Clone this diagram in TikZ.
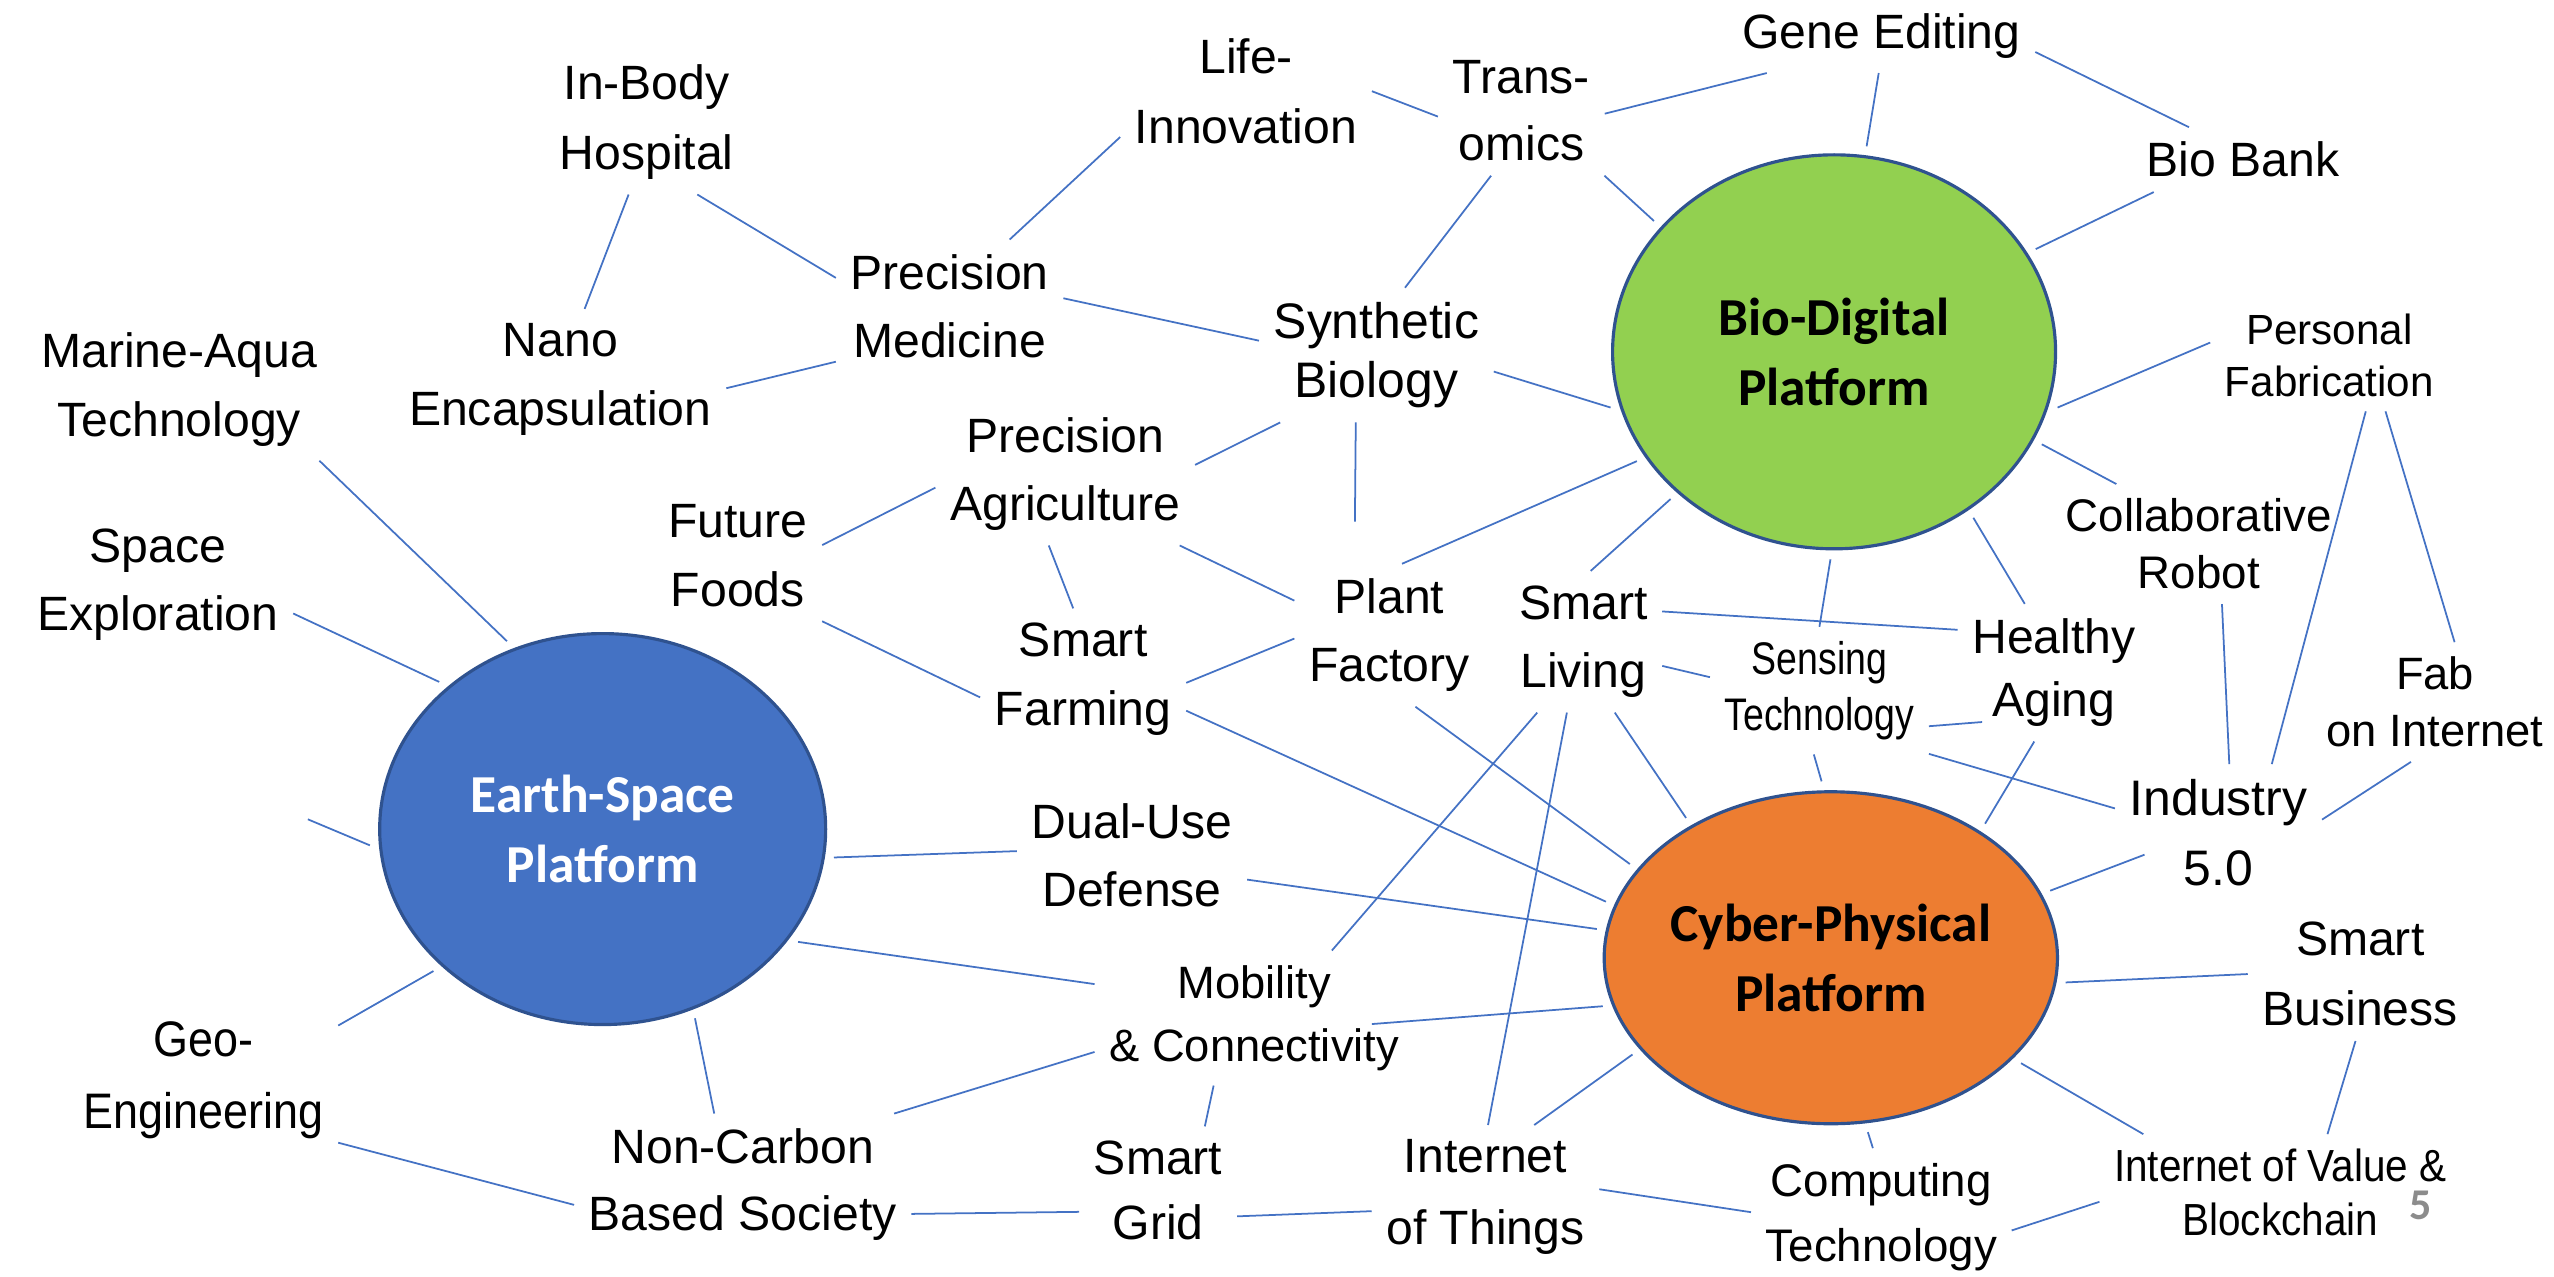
\documentclass[tikz,border=0pt]{standalone}
\usepackage{fontspec}
\setmainfont{Liberation Sans}
\newfontfamily\platfont{Carlito}
\newfontfamily\narrowfont{Liberation Sans}[FakeStretch=0.82]
\newfontfamily\tightfont{Liberation Sans}[FakeStretch=0.9]
\usetikzlibrary{shapes.geometric}

\definecolor{linkblue}{HTML}{4472C4}
\definecolor{rimblue}{HTML}{2F528F}
\definecolor{earthblue}{HTML}{4472C4}
\definecolor{biogreen}{HTML}{92D050}
\definecolor{cyberorange}{HTML}{ED7D31}
\definecolor{pagegray}{HTML}{8C8C8C}

\tikzset{
	topic/.style	= {align=center, inner sep=4pt, font=\fontsize{13.7}{19.5}\selectfont},
	platform/.style	= {ellipse, draw=rimblue, line width=0.9pt, inner sep=0pt, outer sep=3pt,
						align=center, font=\platfont\bfseries\fontsize{15.2}{20}\selectfont},
	link/.style		= {linkblue, line width=0.5pt},
}

\begin{document}
\begin{tikzpicture}[x=0.16288mm, y=-0.16288mm]
	\useasboundingbox (0,0) rectangle (1568,784);

	\node[platform, fill=biogreen, minimum width=4.43cm, minimum height=3.94cm]				(bio)	at (1126,216)	{Bio-Digital\\Platform};
	\node[platform, fill=cyberorange, minimum width=4.43cm, minimum height=3.32cm]			(cps)	at (1124,588)	{Cyber-Physical\\Platform};
	\node[platform, fill=earthblue, text=white, minimum width=4.46cm, minimum height=3.91cm]	(earth)	at (370,509)	{Earth-Space\\Platform};

	\node[topic]													(gene)		at (1155,22)	{Gene Editing};
	\node[topic]													(biobank)	at (1377,98)	{Bio Bank};
	\node[topic, font=\fontsize{13.7}{19}\selectfont]				(trans)		at (934,68)		{Trans-\\omics};
	\node[topic, font=\fontsize{13.7}{20}\selectfont]				(life)		at (765,56)		{Life-\\Innovation};
	\node[topic, font=\fontsize{13.7}{20}\selectfont]				(hospital)	at (397,75)		{In-Body\\Hospital};
	\node[topic]													(medicine)	at (583,188)	{Precision\\Medicine};
	\node[topic]													(nano)		at (344,233)	{Nano\\Encapsulation};
	\node[topic, font=\fontsize{14.2}{16.7}\selectfont]				(synbio)	at (845,218)	{Synthetic\\Biology};
	\node[topic]													(marine)	at (110,239)	{Marine-Aqua\\Technology};
	\node[topic, font=\fontsize{12}{14.8}\selectfont]				(persfab)	at (1430,218)	{Personal\\Fabrication};
	\node[topic]													(agri)		at (654,291)	{Precision\\Agriculture};
	\node[topic]													(foods)		at (453,341)	{Future\\Foods};
	\node[topic]													(space)		at (97,359)		{Space\\Exploration};
	\node[topic, font=\fontsize{13}{16.2}\selectfont]				(cobot)		at (1350,334)	{Collaborative\\Robot};
	\node[topic]													(plant)		at (853,390)	{Plant\\Factory};
	\node[topic]													(living)	at (972,394)	{Smart\\Living};
	\node[topic]													(farming)	at (665,417)	{Smart\\Farming};
	\node[topic, font=\narrowfont\fontsize{13}{15.8}\selectfont]	(sensing)	at (1117,424)	{Sensing\\Technology};
	\node[topic, font=\fontsize{13.7}{18}\selectfont]				(aging)		at (1261,413)	{Healthy\\Aging};
	\node[topic, font=\fontsize{12.9}{16.2}\selectfont]				(fab)		at (1495,431)	{Fab\\on Internet};
	\node[topic, font=\fontsize{14.2}{20}\selectfont]				(industry)	at (1362,511)	{Industry\\5.0};
	\node[topic]													(defense)	at (695,525)	{Dual-Use\\Defense};
	\node[topic, font=\fontsize{13.7}{20}\selectfont]				(business)	at (1449,598)	{Smart\\Business};
	\node[topic, font=\fontsize{12.9}{18}\selectfont]				(mobility)	at (770,625)	{Mobility\\\& Connectivity};
	\node[topic, font=\tightfont\fontsize{14.2}{20.4}\selectfont]	(geo)		at (125,663)	{Geo-\\Engineering};
	\node[topic, font=\fontsize{13.7}{19}\selectfont]				(noncarbon)	at (456,727)	{Non-Carbon\\Based Society};
	\node[topic, font=\fontsize{13.7}{18.5}\selectfont]				(grid)		at (711,731)	{Smart\\Grid};
	\node[topic, font=\fontsize{13.7}{20.4}\selectfont]				(iot)		at (912,735)	{Internet\\of Things};
	\node[topic, font=\fontsize{13}{18.5}\selectfont]				(computing)	at (1155,747)	{Computing\\Technology};
	\node[topic, font=\tightfont\fontsize{12.8}{15.3}\selectfont]	(iov)		at (1400,732)	{Internet of Value \&\\Blockchain};
	\node[text=pagegray, font=\platfont\bfseries\fontsize{12.5}{14}\selectfont]	(page)	at (1486,740)	{5};
	\coordinate													(stub)		at (189,503);

	\path[link]
	(life.0)			edge	(trans.184)
	(life.200)			edge	(medicine.48)
	(trans.358)			edge	(gene.198)
	(trans.322)			edge	(bio.144)
	(trans.245)			edge	(synbio.67)
	(gene.354)			edge	(biobank.149)
	(gene.266)			edge	(bio.81)
	(biobank.200)		edge	(bio.27)
	(hospital.256)		edge	(nano.71)
	(hospital.305)		edge	(medicine.166)
	(nano.357)			edge	(medicine.206)
	(medicine.4)		edge	(synbio.173)
	(synbio.352)		edge	(bio.194)
	(synbio.215)		edge	(agri.4)
	(synbio.253)		edge [shorten >=12pt]	(plant.116)
	(foods.7)			edge	(agri.186)
	(foods.322)			edge	(farming.190)
	(agri.257)			edge	(farming.98)
	(agri.328)			edge	(plant.160)
	(plant.80)			edge	(bio.209)
	(plant.182)			edge	(farming.358)
	(plant.290)			edge	(cps.155)
	(farming.343)		edge	(cps.166)
	(living.84)			edge	(bio.222)
	(living.294)		edge	(cps.136)
	(living.343)		edge	(sensing.173)
	(living.21)			edge	(aging.156)
	(living.257)		edge	(iot.88)
	(living.237)		edge	(mobility.41)
	(bio.269)			edge	(sensing.90)
	(bio.310)			edge	(aging.113)
	(bio.336)			edge	(cobot.144)
	(bio.346)			edge	(persfab.174)
	(sensing.342)		edge [shorten >=-7pt]	(aging.208)
	(sensing.265)		edge	(cps.93)
	(sensing.330)		edge	(industry.167)
	(aging.254)			edge	(cps.41)
	(cobot.291)			edge	(industry.81)
	(persfab.303)		edge	(industry.52)
	(persfab.315)		edge	(fab.72)
	(fab.248)			edge	(industry.7)
	(industry.198)		edge [shorten <=-9pt]	(cps.17)
	(business.180)		edge	(cps.354)
	(business.266)		edge	(iov.51)
	(iov.157)			edge	(cps.331)
	(iov.183)			edge	(computing.354)
	(computing.97)		edge	(cps.282)
	(computing.178)		edge	(iot.4)
	(iot.56)			edge	(cps.206)
	(iot.187)			edge	(grid.342)
	(mobility.359)		edge [shorten <=-12pt]	(cps.192)
	(mobility.192)		edge	(noncarbon.25)
	(mobility.239)		edge	(grid.54)
	(defense.348)		edge	(cps.173)
	(earth.353)			edge	(defense.178)
	(earth.330)			edge	(mobility.168)
	(earth.296)			edge	(noncarbon.112)
	(earth.220)			edge	(geo.22)
	(earth.138)			edge	(space.348)
	(earth.117)			edge	(marine.333)
	(earth.184)			edge	(stub)
	(noncarbon.350)		edge	(grid.195)
	(geo.335)			edge	(noncarbon.187)
	;
\end{tikzpicture}
\end{document}
